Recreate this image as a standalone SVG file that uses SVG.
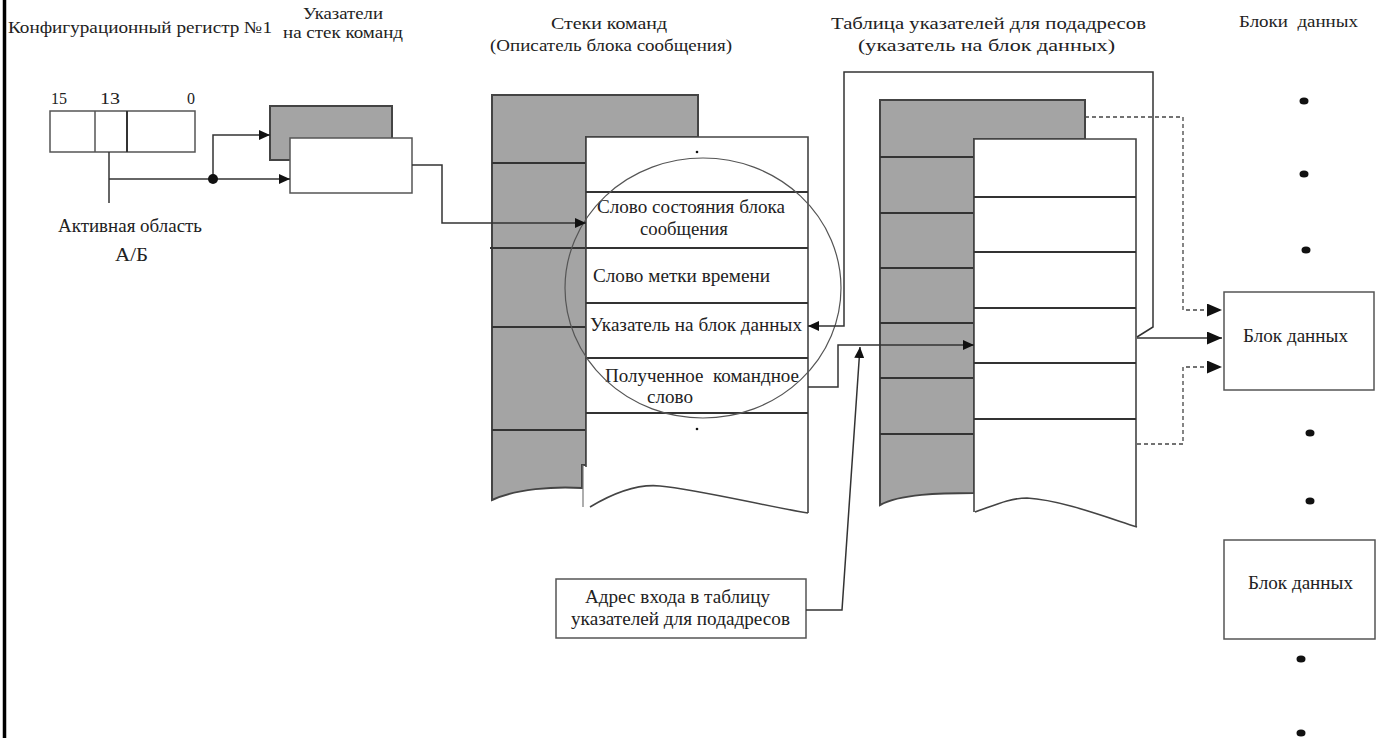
<svg xmlns="http://www.w3.org/2000/svg" width="1381" height="738" viewBox="0 0 1381 738">
<style>
text{font-family:"Liberation Serif","Times New Roman",serif;fill:#222;}
.t15{font-size:17px;}
.t16{font-size:16px;}
.t18{font-size:19px;}
.box{fill:#fff;stroke:#555;stroke-width:1.5;}
.gray{fill:#a4a4a4;stroke:#444;stroke-width:2;}
.row{stroke:#333;stroke-width:2;fill:none;}
.edge{stroke:#444;stroke-width:1.6;fill:none;}
.con{stroke:#333;stroke-width:1.5;fill:none;}
.dash{stroke:#444;stroke-width:1.3;fill:none;stroke-dasharray:4 3;}
.dot{fill:#111;}
</style>
<defs>
<marker id="ah" markerUnits="userSpaceOnUse" markerWidth="12" markerHeight="10" refX="11" refY="5" orient="auto">
<path d="M0,0 L11,5 L0,10 Z" fill="#111"/>
</marker>
<marker id="ahb" markerUnits="userSpaceOnUse" markerWidth="16" markerHeight="14" refX="15" refY="6.5" orient="auto">
<path d="M0,0 L15,6.5 L0,13 Z" fill="#111"/>
</marker>
</defs>
<rect width="1381" height="738" fill="#fff"/>
<line x1="4.5" y1="0" x2="4.5" y2="738" stroke="#000" stroke-width="3.5"/>

<g id="titles">
<text class="t15" x="8" y="33" textLength="264" lengthAdjust="spacingAndGlyphs">Конфигурационный регистр №1</text>
<text class="t16" x="303" y="19" textLength="80" lengthAdjust="spacingAndGlyphs">Указатели</text>
<text class="t16" x="283" y="38" textLength="120" lengthAdjust="spacingAndGlyphs">на стек команд</text>
<text class="t15" x="551" y="29" textLength="116" lengthAdjust="spacingAndGlyphs">Стеки команд</text>
<text class="t15" x="490" y="51" textLength="242" lengthAdjust="spacingAndGlyphs">(Описатель блока сообщения)</text>
<text class="t15" x="831" y="29" textLength="315" lengthAdjust="spacingAndGlyphs">Таблица указателей для подадресов</text>
<text class="t15" x="858" y="51" textLength="257" lengthAdjust="spacingAndGlyphs">(указатель на блок данных)</text>
<text class="t15" x="1239" y="27" textLength="119" lengthAdjust="spacingAndGlyphs" xml:space="preserve">Блоки  данных</text>
</g>

<g id="register">
<text class="t15" x="51" y="104" textLength="16" lengthAdjust="spacingAndGlyphs">15</text>
<text class="t15" x="100" y="104" textLength="20" lengthAdjust="spacingAndGlyphs">13</text>
<text class="t15" x="187" y="104" textLength="8" lengthAdjust="spacingAndGlyphs">0</text>
<rect class="box" x="50" y="111" width="145" height="41"/>
<line x1="95" y1="111" x2="95" y2="152" stroke="#555" stroke-width="1.5"/>
<line x1="127" y1="111" x2="127" y2="152" stroke="#333" stroke-width="2"/>
</g>

<g id="active-area">
<text class="t18" x="58" y="232" textLength="144" lengthAdjust="spacingAndGlyphs">Активная область</text>
<text class="t18" x="115" y="261" textLength="33" lengthAdjust="spacingAndGlyphs">А/Б</text>
</g>

<g id="pointers">
<rect class="gray" x="270" y="106" width="122" height="54" stroke-width="1.5"/>
<rect class="box" x="290" y="138" width="122" height="55"/>
</g>

<g id="command-stack">
<path class="gray" d="M492,95 H698 V137 H586 V465 H582 V488 C555,486 515,489 492,500 Z"/>
<line class="row" x1="492" y1="163" x2="586" y2="163" stroke-width="1.5"/>
<line class="row" x1="490" y1="248" x2="586" y2="248" stroke-width="1.5"/>
<line class="row" x1="492" y1="327" x2="586" y2="327" stroke-width="1.5"/>
<line class="row" x1="492" y1="430" x2="586" y2="430" stroke-width="1.5"/>
<path d="M586,137 H808 V513 C760,505 700,490 660,486 C640,484 615,492 590,507 L586,507 Z" fill="#fff"/>
<path class="edge" d="M586,467 V137 H808 V513"/>
<path class="edge" d="M590,507 C615,492 640,484 660,486 C700,490 760,505 808,513" stroke-width="1.3"/>
<line x1="583" y1="465" x2="583" y2="507" stroke="#777" stroke-width="1.2"/>
<line class="row" x1="586" y1="192" x2="808" y2="192"/>
<line class="row" x1="586" y1="248" x2="808" y2="248"/>
<line class="row" x1="586" y1="303" x2="808" y2="303"/>
<line class="row" x1="586" y1="358" x2="808" y2="358"/>
<line class="row" x1="586" y1="413" x2="808" y2="413"/>
<circle class="dot" cx="697" cy="152" r="1.3"/>
<circle class="dot" cx="697" cy="429" r="1.3"/>
<text class="t18" x="597" y="213" textLength="188" lengthAdjust="spacingAndGlyphs">Слово состояния блока</text>
<text class="t18" x="640" y="235" textLength="88" lengthAdjust="spacingAndGlyphs">сообщения</text>
<text class="t18" x="593" y="282" textLength="177" lengthAdjust="spacingAndGlyphs">Слово метки времени</text>
<text class="t18" x="590" y="331" textLength="212" lengthAdjust="spacingAndGlyphs">Указатель на блок данных</text>
<text class="t18" x="605" y="382" textLength="194" lengthAdjust="spacingAndGlyphs" xml:space="preserve">Полученное  командное</text>
<text class="t18" x="647" y="403" textLength="46" lengthAdjust="spacingAndGlyphs">слово</text>
<ellipse cx="703" cy="288" rx="138" ry="130" fill="none" stroke="#555" stroke-width="1.2"/>
</g>

<g id="subaddress-table">
<path class="gray" d="M880,100 H1085 V139 H974 V493 C940,493 900,494 880,505 Z"/>
<line class="row" x1="880" y1="157" x2="974" y2="157"/>
<line class="row" x1="880" y1="213" x2="974" y2="213"/>
<line class="row" x1="880" y1="268" x2="974" y2="268"/>
<line class="row" x1="880" y1="323" x2="974" y2="323"/>
<line class="row" x1="880" y1="378" x2="974" y2="378"/>
<line class="row" x1="880" y1="434" x2="974" y2="434"/>
<path d="M974,139 H1136 V527 C1100,515 1060,500 1027,498 C1010,498 995,505 975,512 L974,512 Z" fill="#fff"/>
<path class="edge" d="M974,512 V139 H1136 V527"/>
<path class="edge" d="M975,512 C995,505 1010,498 1027,498 C1060,500 1100,515 1137,527" stroke-width="1.3"/>
<line class="row" x1="974" y1="197" x2="1136" y2="197"/>
<line class="row" x1="974" y1="252" x2="1136" y2="252"/>
<line class="row" x1="974" y1="308" x2="1136" y2="308"/>
<line class="row" x1="974" y1="363" x2="1136" y2="363"/>
<line class="row" x1="974" y1="419" x2="1136" y2="419"/>
</g>

<g id="entry-address">
<rect class="box" x="556" y="579" width="250" height="59"/>
<text class="t18" x="585" y="603" textLength="185" lengthAdjust="spacingAndGlyphs">Адрес входа в таблицу</text>
<text class="t18" x="571" y="625" textLength="219" lengthAdjust="spacingAndGlyphs">указателей для подадресов</text>
</g>

<g id="data-blocks">
<rect class="box" x="1224" y="292" width="150" height="98"/>
<text class="t18" x="1243" y="342" textLength="105" lengthAdjust="spacingAndGlyphs">Блок данных</text>
<rect class="box" x="1224" y="540" width="151" height="99"/>
<text class="t18" x="1248" y="589" textLength="105" lengthAdjust="spacingAndGlyphs">Блок данных</text>
<ellipse class="dot" cx="1304" cy="101" rx="4.5" ry="3.5"/>
<ellipse class="dot" cx="1304" cy="174" rx="4.5" ry="3.5"/>
<ellipse class="dot" cx="1306" cy="250" rx="4.5" ry="3.5"/>
<ellipse class="dot" cx="1310" cy="433" rx="4.5" ry="3.5"/>
<ellipse class="dot" cx="1310" cy="501" rx="4.5" ry="3.5"/>
<ellipse class="dot" cx="1301" cy="659" rx="4.5" ry="3.5"/>
<ellipse class="dot" cx="1301" cy="733" rx="4.5" ry="3.5"/>
</g>

<g id="connectors">
<line class="con" x1="109" y1="152" x2="109" y2="203"/>
<path class="con" d="M109,179 H290" marker-end="url(#ah)"/>
<path class="con" d="M213,179 V135 H270" marker-end="url(#ah)"/>
<circle class="dot" cx="213" cy="179" r="5"/>
<path class="con" d="M412,165 H442 V223 H586" marker-end="url(#ah)"/>
<path class="con" d="M1137,337 L1153,327 V72 H844 V326 H808" marker-end="url(#ah)"/>
<path class="con" d="M808,387 H838 V345 H974" marker-end="url(#ah)"/>
<path class="con" d="M806,610 H842 L860,347" marker-end="url(#ah)"/>
<path class="dash" d="M1085,117 H1183 V310 H1210"/>
<path d="M1207,310 H1222" stroke="none" marker-end="url(#ahb)"/>
<path class="con" d="M1137,338 H1222" marker-end="url(#ahb)"/>
<path class="dash" d="M1137,444 H1183 V367 H1210"/>
<path d="M1207,367 H1222" stroke="none" marker-end="url(#ahb)"/>
</g>
</svg>
